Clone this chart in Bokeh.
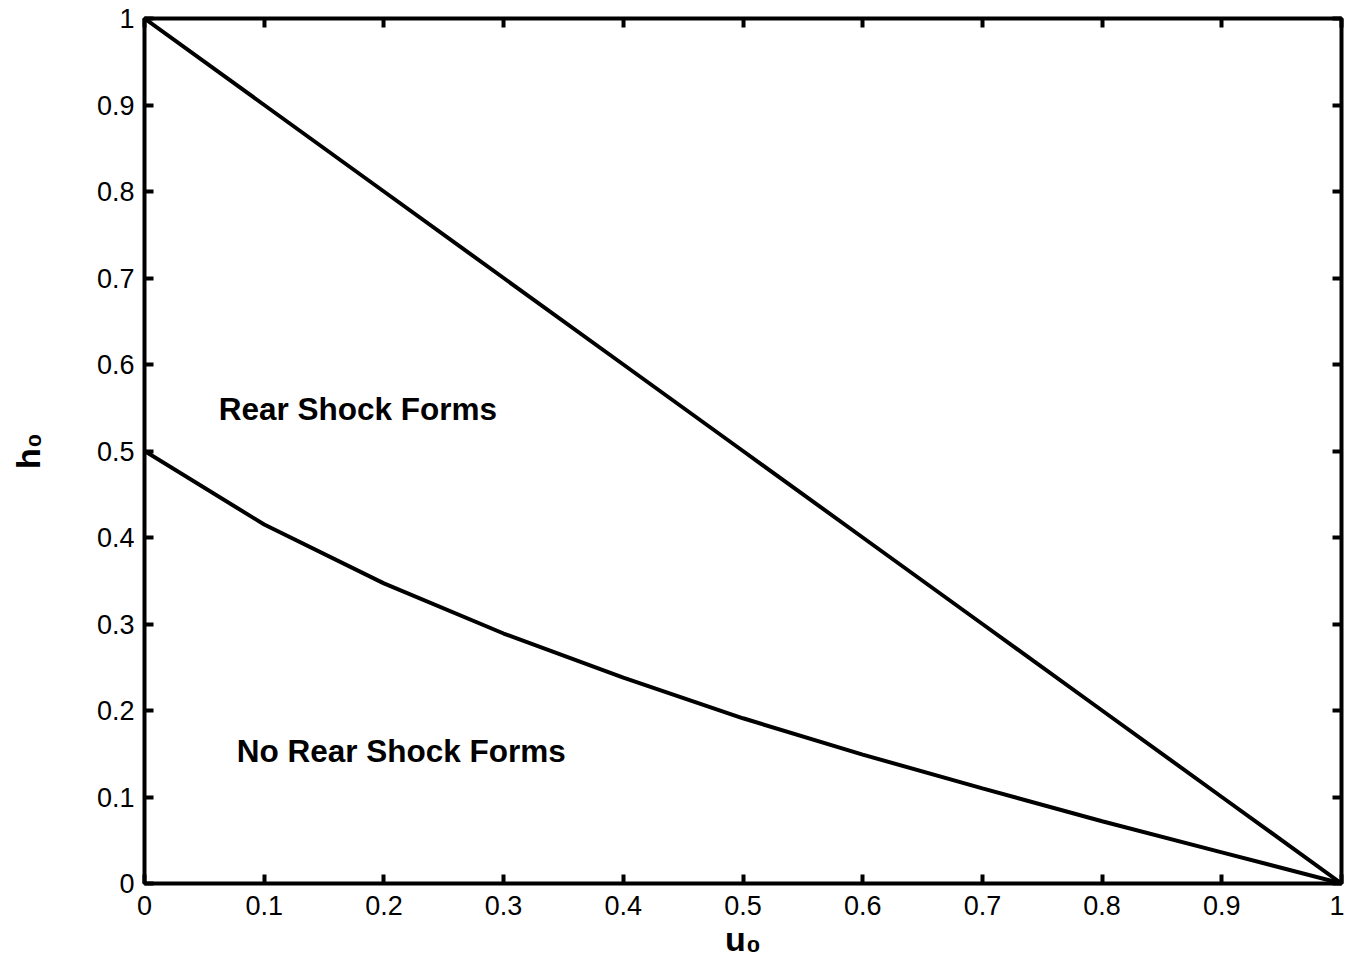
from bokeh.plotting import figure
from bokeh.models import Range1d, LinearAxis, FixedTicker, ColumnDataSource
from bokeh.core.properties import value
from bokeh.embed import file_html
from bokeh.resources import INLINE

# data
u0 = [0.0, 0.1, 0.2, 0.3, 0.4, 0.5, 0.6, 0.7, 0.8, 0.9, 1.0]
upper_h0 = [1.0, 0.9, 0.8, 0.7, 0.6, 0.5, 0.4, 0.3, 0.2, 0.1, 0.0]
lower_h0 = [0.5, 0.415, 0.347, 0.289, 0.238, 0.191, 0.149, 0.110, 0.072, 0.036, 0.0]
ticks = [0, 0.1, 0.2, 0.3, 0.4, 0.5, 0.6, 0.7, 0.8, 0.9, 1]
tick_labels = {0: "0", 0.1: "0.1", 0.2: "0.2", 0.3: "0.3", 0.4: "0.4", 0.5: "0.5",
               0.6: "0.6", 0.7: "0.7", 0.8: "0.8", 0.9: "0.9", 1: "1"}
x_title = "u₀"
y_title = "h₀"
region_labels = ["Rear Shock Forms", "No Rear Shock Forms"]
region_x = [0.062, 0.077]
region_y = [0.548, 0.153]

FONT = "Liberation Sans"

p = figure(width=1344, height=966, output_backend="svg", toolbar_location=None,
           x_range=Range1d(0, 1), y_range=Range1d(0, 1),
           min_border_left=144, min_border_top=18, min_border_right=3, min_border_bottom=83)
p.background_fill_color = "white"
p.border_fill_color = "white"
p.outline_line_color = "black"
p.outline_line_width = 4
p.grid.visible = False

def style_axis(ax, labels=True):
    ax.ticker = FixedTicker(ticks=ticks)
    ax.axis_line_color = None
    ax.major_tick_in = 9
    ax.major_tick_out = 0
    ax.major_tick_line_width = 4
    ax.major_tick_line_color = "black"
    ax.minor_tick_line_color = None
    if labels:
        ax.major_label_overrides = tick_labels
        ax.major_label_text_font = FONT
        ax.major_label_text_font_size = "27px"
        ax.major_label_text_color = "black"
        ax.major_label_standoff = 10
    else:
        ax.major_label_overrides = {t: "" for t in ticks}
        ax.major_label_text_font_size = "1px"
        ax.major_label_standoff = 0

style_axis(p.xaxis[0])
style_axis(p.yaxis[0])
p.xaxis[0].major_label_standoff = 12
p.xaxis[0].axis_label = x_title
p.yaxis[0].axis_label = y_title
for ax in (p.xaxis[0], p.yaxis[0]):
    ax.axis_label_text_font = FONT
    ax.axis_label_text_font_style = "bold"
    ax.axis_label_text_font_size = "34px"
    ax.axis_label_text_color = "black"
p.xaxis[0].axis_label_standoff = 2
p.yaxis[0].axis_label_standoff = 47

top = LinearAxis()
right = LinearAxis()
style_axis(top, labels=False)
style_axis(right, labels=False)
p.add_layout(top, "above")
p.add_layout(right, "right")

src = ColumnDataSource(dict(u=u0, up=upper_h0, lo=lower_h0))
p.line("u", "up", source=src, line_color="black", line_width=4)
p.line("u", "lo", source=src, line_color="black", line_width=4)

p.text(x=region_x, y=region_y, text=region_labels, text_font=value(FONT),
       text_font_style="bold", text_font_size="31.5px", text_color="black",
       text_baseline="middle", text_align="left")

open("out.html", "w").write(file_html(p, INLINE))
